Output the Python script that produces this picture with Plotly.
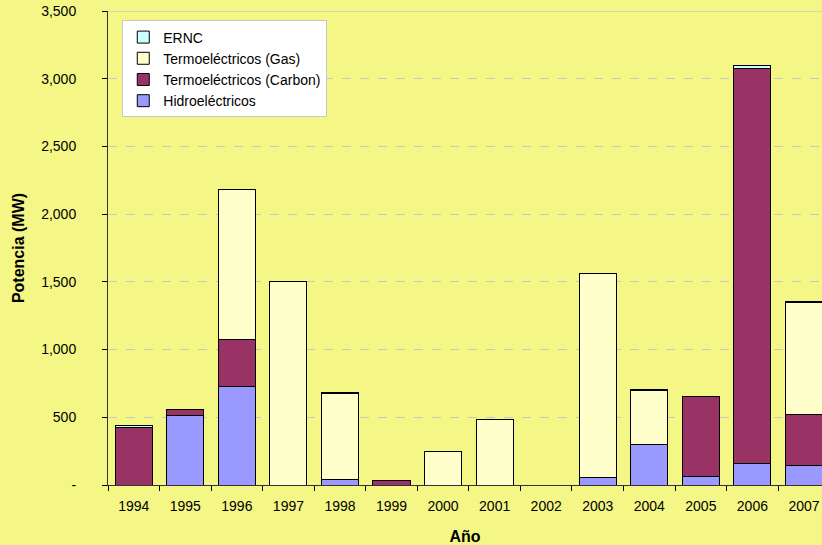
import plotly.graph_objects as go

years = ["1994", "1995", "1996", "1997", "1998", "1999", "2000", "2001",
         "2002", "2003", "2004", "2005", "2006", "2007"]
hidro = [0, 515, 730, 0, 40, 0, 0, 0, 0, 55, 300, 60, 160, 145]
carbon = [428, 40, 345, 0, 0, 30, 0, 0, 0, 0, 0, 590, 2915, 375]
gas = [0, 0, 1110, 1500, 636, 0, 245, 480, 0, 1510, 395, 0, 0, 825]
ernc = [12, 0, 0, 0, 8, 0, 0, 0, 0, 0, 10, 0, 20, 10]

y_ticks = [0, 500, 1000, 1500, 2000, 2500, 3000, 3500]
y_labels = ["-", "500", "1,000", "1,500", "2,000", "2,500", "3,000", "3,500"]

bg = "#F4F786"
line = dict(color="black", width=1)

fig = go.Figure()
fig.add_bar(x=years, y=hidro, name="Hidroeléctricos",
            marker=dict(color="#9999FF", line=line))
fig.add_bar(x=years, y=carbon, name="Termoeléctricos (Carbon)",
            marker=dict(color="#993366", line=line))
fig.add_bar(x=years, y=gas, name="Termoeléctricos (Gas)",
            marker=dict(color="#FFFFCC", line=line))
fig.add_bar(x=years, y=ernc, name="ERNC",
            marker=dict(color="#CCFFFF", line=line))

fig.add_shape(type="line", xref="paper", yref="y", x0=0, x1=1, y0=3500, y1=3500,
              line=dict(color="#C8C8C8", width=1.5))

fig.update_layout(
    width=822, height=545,
    barmode="stack", bargap=0.28,
    paper_bgcolor=bg, plot_bgcolor=bg,
    margin=dict(l=108, r=0, t=11, b=60),
    font=dict(family="Liberation Sans, Arial, sans-serif", size=14, color="black"),
    showlegend=True,
    legend=dict(x=0.02, y=0.98, xanchor="left", yanchor="top",
                bgcolor="white", bordercolor="#C8C8C8", borderwidth=1,
                traceorder="reversed", font=dict(size=14),
                tracegroupgap=0, itemwidth=30),
    xaxis=dict(type="category", range=[-0.5, 13.35],
               tickson="boundaries", ticks="outside", ticklen=5,
               tickcolor="black", showline=True, linecolor="#333333", linewidth=1,
               showgrid=False, ticklabelstandoff=8,
               title=dict(text="<b>Año</b>", font=dict(size=16), standoff=19),
               tickfont=dict(size=14)),
    yaxis=dict(range=[0, 3500], tickvals=y_ticks, ticktext=y_labels,
               ticks="outside", ticklen=5, tickcolor="black",
               showline=True, linecolor="#333333", linewidth=1,
               showgrid=True, gridcolor="#C8C8C8", griddash="dash", gridwidth=1,
               zeroline=False, ticklabelstandoff=23,
               title=dict(text="<b>Potencia (MW)</b>", font=dict(size=16), standoff=12),
               tickfont=dict(size=14)),
)

fig.write_html("out.html", config={"displayModeBar": False},
               post_script="document.body.style.margin='0';")
